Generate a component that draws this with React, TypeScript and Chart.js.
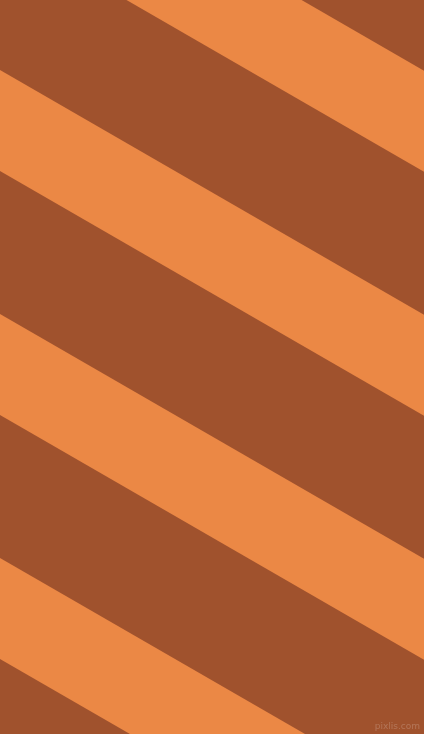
import { useEffect, useRef } from "react";
import { Chart, registerables } from "chart.js";

Chart.register(...registerables);

const W = 424;
const H = 734;

// stripes fall at ~30 degrees, y grows this much per px of x
const slope = 0.577;

// where each light band's edges cross the left border (x = 0)
const bandTop = [-174, 70, 314, 558];
const bandBottom = [-73, 171, 415, 659];

const dark = "#A0522D";
const light = "#EB8845";

const edge = (y0) => [
  { x: 0, y: y0 },
  { x: W, y: y0 + slope * W },
];

const App = () => {
  const canvasRef = useRef(null);
  const chartRef = useRef(null);

  useEffect(() => {
    document.body.style.margin = "0";
    if (chartRef.current) chartRef.current.destroy();

    const datasets = [];
    bandTop.forEach((top, i) => {
      datasets.push({
        data: edge(top),
        borderColor: "rgba(0,0,0,0)",
        borderWidth: 0,
        pointRadius: 0,
        backgroundColor: light,
        fill: "+1",
      });
      datasets.push({
        data: edge(bandBottom[i]),
        borderColor: "rgba(0,0,0,0)",
        borderWidth: 0,
        pointRadius: 0,
        fill: false,
      });
    });

    const ctx = canvasRef.current.getContext("2d");
    chartRef.current = new Chart(ctx, {
      type: "line",
      data: { datasets },
      options: {
        animation: false,
        responsive: false,
        devicePixelRatio: 1,
        layout: { padding: 0 },
        plugins: {
          legend: { display: false },
          tooltip: { enabled: false },
        },
        scales: {
          x: { type: "linear", min: 0, max: W, display: false },
          y: { type: "linear", min: 0, max: H, reverse: true, display: false },
        },
      },
    });

    return () => {
      if (chartRef.current) {
        chartRef.current.destroy();
        chartRef.current = null;
      }
    };
  }, []);

  return (
    <div style={{ position: "relative", width: W, height: H, overflow: "hidden" }}>
      <canvas
        ref={canvasRef}
        width={W}
        height={H}
        style={{ display: "block", background: dark }}
      />
      <span
        style={{
          position: "absolute",
          right: 4,
          bottom: 3,
          fontFamily: "DejaVu Sans, sans-serif",
          fontSize: 9,
          lineHeight: "10px",
          color: "rgba(255,255,255,0.2)",
        }}
      >
        pixlis.com
      </span>
    </div>
  );
};

export default App;
